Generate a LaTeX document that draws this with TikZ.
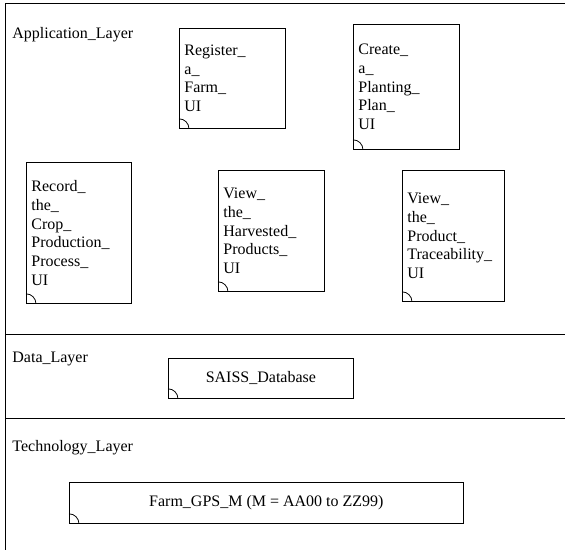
\documentclass[tikz,border=0pt]{standalone}
\usepackage{fontspec}
\setmainfont{Liberation Serif}
\tikzset{
    every node/.style={font=\fontsize{16}{18.7}\selectfont},
    uibox/.style={draw, rectangle, anchor=north west, align=left, inner xsep=5pt, inner ysep=0pt},
    dbbox/.style={draw, rectangle, anchor=north west, align=center, inner sep=0pt},
    layerlbl/.style={anchor=north west, inner sep=0pt}
}

\begin{document}
\begin{tikzpicture}[x=1pt,y=-1pt,line width=0.8pt]
            \useasboundingbox (0,0) rectangle (565,550);
            \draw (565,3)--(5,3)--(5,550);
            \foreach \y in {334,418}{
                \draw (5,\y)--(565,\y);
            }
            \node[layerlbl] (applbl) at (12,27) {Application\_Layer};
            \node[layerlbl] (datalbl) at (12,352) {Data\_Layer};
            \node[layerlbl] (techlbl) at (12,440) {Technology\_Layer};
            \node[uibox, text width=96pt, minimum height=100pt] (reg) at (179,28) {Register\_\\a\_\\Farm\_\\UI};
            \node[uibox, text width=96pt, minimum height=125pt] (plan) at (353,24) {Create\_\\a\_\\Planting\_\\Plan\_\\UI};
            \node[uibox, text width=95pt, minimum height=141pt] (rec) at (26,162) {Record\_\\the\_\\Crop\_\\Production\_\\Process\_\\UI};
            \node[uibox, text width=96pt, minimum height=121pt] (harv) at (218,170) {View\_\\the\_\\Harvested\_\\Products\_\\UI};
            \node[uibox, text width=92pt, minimum height=131pt] (trace) at (402,170) {View\_\\the\_\\Product\_\\Traceability\_\\UI};
            \node[dbbox, minimum width=185pt, minimum height=40pt] (db) at (168,358) {SAISS\_Database};
            \node[dbbox, minimum width=394pt, minimum height=41pt] (gps) at (69,482) {Farm\_GPS\_M (M = AA00 to ZZ99)};
            \foreach \n in {reg,plan,rec,harv,trace,db,gps}{
                \draw ([yshift=10pt]\n.south west) arc[start angle=90,end angle=0,radius=10pt];
            }
        \end{tikzpicture}
\end{document}
